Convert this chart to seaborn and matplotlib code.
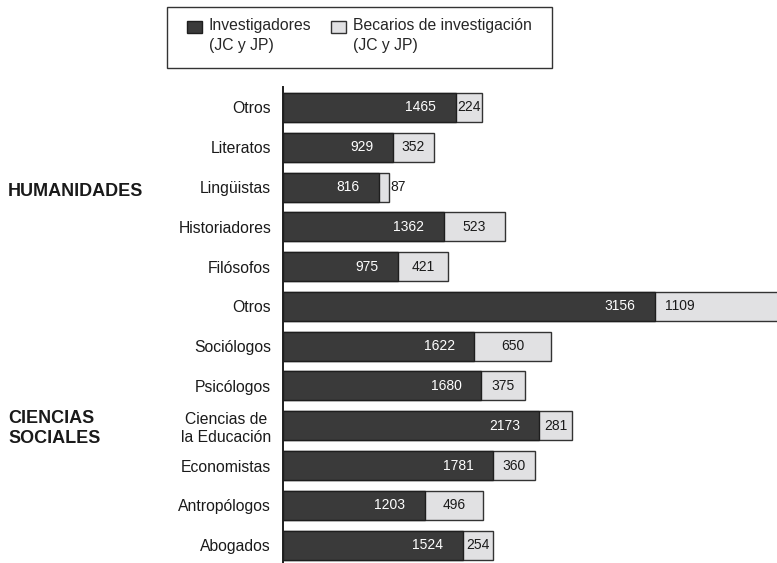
import matplotlib
matplotlib.use("Agg")
import matplotlib.pyplot as plt
from matplotlib.patches import Patch, Rectangle
from matplotlib.legend_handler import HandlerPatch
from matplotlib.ticker import FixedLocator
from matplotlib.transforms import blended_transform_factory
import pandas as pd
import seaborn as sns

categorias = ['Otros', 'Literatos', 'Lingüistas', 'Historiadores', 'Filósofos',
              'Otros', 'Sociólogos', 'Psicólogos', 'Ciencias de\nla Educación',
              'Economistas', 'Antropólogos', 'Abogados']
grupos = ['HUMANIDADES'] * 5 + ['CIENCIAS\nSOCIALES'] * 7
investigadores = [1465, 929, 816, 1362, 975, 3156, 1622, 1680, 2173, 1781, 1203, 1524]
becarios = [224, 352, 87, 523, 421, 1109, 650, 375, 281, 360, 496, 254]

oscuro = '#3a3a3a'
claro = '#e1e1e3'

sns.set_style('white')
plt.rcParams['font.family'] = ['Liberation Sans', 'DejaVu Sans']

df = pd.DataFrame({'clave': [g + '|' + c for g, c in zip(grupos, categorias)],
                   'investigadores': investigadores,
                   'becarios': becarios})
df['total'] = df['investigadores'] + df['becarios']

fig = plt.figure(figsize=(7.77, 5.63), dpi=100)
ax = fig.add_axes([283 / 777, 0, 1 - 283 / 777, 1 - 87 / 563])

# barras apiladas: total en claro, investigadores encima en oscuro
sns.barplot(data=df, x='total', y='clave', orient='h', color=claro, saturation=1,
            width=0.73, edgecolor='#333333', linewidth=1, errorbar=None, ax=ax)
sns.barplot(data=df, x='investigadores', y='clave', orient='h', color=oscuro, saturation=1,
            width=0.73, edgecolor='#1e1e1e', linewidth=1, errorbar=None, ax=ax)

x_max = 4190
ax.set_xlim(0, x_max)
ax.set_ylim(11.45, -0.515)
ax.set_xlabel('')
ax.set_ylabel('')
ax.set_xticks([])
ax.set_yticks(range(len(categorias)))
ax.set_yticklabels(categorias)
for lab in ax.get_yticklabels():
    if '\n' in lab.get_text():
        lab.set_multialignment('center')

for s in ['top', 'right', 'bottom']:
    ax.spines[s].set_visible(False)
ax.spines['left'].set_linewidth(1.4)
ax.spines['left'].set_color('#1e1e1e')

ax.yaxis.set_minor_locator(FixedLocator([k + 0.5 for k in range(11)]))
ax.tick_params(axis='y', which='major', length=0, pad=8.5, labelsize=11.3, labelcolor='#1a1a1a')
ax.tick_params(axis='y', which='minor', direction='in', length=3, width=1, color='#1e1e1e')

# etiquetas de valores
for i, (inv, bec) in enumerate(zip(investigadores, becarios)):
    ax.annotate(str(inv), (inv, i), xytext=(-14, 0), textcoords='offset points',
                ha='right', va='center', color='white', fontsize=10)
    if bec < 150:
        ax.annotate(str(bec), (inv + bec, i), xytext=(1, 0), textcoords='offset points',
                    ha='left', va='center', color='#1a1a1a', fontsize=10)
    elif inv + bec > x_max:
        ax.annotate(str(bec), (inv, i), xytext=(7, 0), textcoords='offset points',
                    ha='left', va='center', color='#1a1a1a', fontsize=10)
    else:
        ax.text(inv + bec / 2, i, str(bec), ha='center', va='center',
                color='#1a1a1a', fontsize=10)

# rótulos de grupo
tr = blended_transform_factory(fig.transFigure, ax.transData)
ax.text(8 / 777, 2.1, 'HUMANIDADES', transform=tr, ha='left', va='center',
        fontsize=13, fontweight='bold', color='#1a1a1a')
ax.text(8 / 777, 8.07, 'CIENCIAS\nSOCIALES', transform=tr, ha='left', va='center',
        fontsize=13, fontweight='bold', color='#1a1a1a', linespacing=1.3)


def cuadro(legend, orig_handle, xdescent, ydescent, width, height, fontsize):
    # cuadrado en la parte baja de la caja, alineado con la primera línea
    return Rectangle((-xdescent, -ydescent), width, 8.6)


# leyenda con marco dibujado aparte
handles = [Patch(facecolor=oscuro, edgecolor='#1e1e1e', label='Investigadores\n(JC y JP)'),
           Patch(facecolor=claro, edgecolor='#333333', label='Becarios de investigación\n(JC y JP)')]
leg = fig.legend(handles=handles, loc='upper left', bbox_to_anchor=(187 / 777, 1 - 18 / 563),
                 ncol=2, frameon=False, fontsize=11.3, borderpad=0, borderaxespad=0,
                 handlelength=0.95, handleheight=1.1, handletextpad=0.45, columnspacing=1.25,
                 handler_map={Patch: HandlerPatch(patch_func=cuadro)})
for t in leg.get_texts():
    t.set_linespacing(1.42)
for col in leg._legend_handle_box.get_children():
    for item in col.get_children():
        item.align = 'top'
fig.patches.append(Rectangle((167 / 777, 1 - 68 / 563), 385 / 777, 61 / 563,
                             transform=fig.transFigure, fill=False,
                             edgecolor='#333333', linewidth=1))

fig.savefig('out.png', dpi=100)
